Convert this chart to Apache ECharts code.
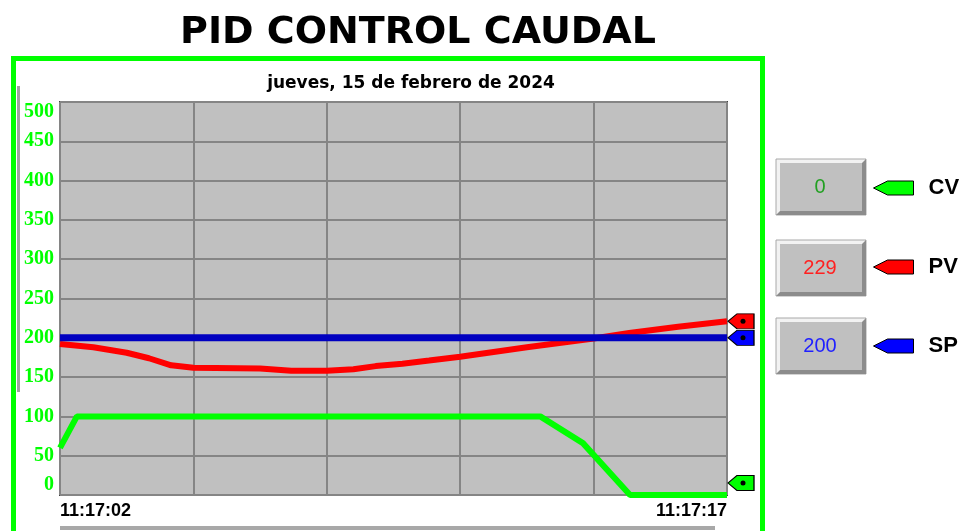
<!DOCTYPE html>
<html>
<head>
<meta charset="utf-8">
<script src="https://cdn.jsdelivr.net/npm/echarts@6/dist/echarts.min.js"></script>
<style>
  html, body { margin: 0; padding: 0; background: #ffffff; }
  #chart { width: 963px; height: 531px; }
</style>
</head>
<body>
<div id="chart"></div>
<script>
// Trend window: 15 s starting at 11:17:02 (x values are seconds into the window)
const titleText = 'PID CONTROL CAUDAL';
const dateText = 'jueves, 15 de febrero de 2024';
const timeLabels = ['11:17:02', '11:17:17'];
const seriesNames = ['CV', 'PV', 'SP'];

// Control variable (valve output)
const cvData = [[0, 60], [0.38, 100], [10.8, 100], [11.76, 66], [12.82, 0], [15, 0]];
// Process variable (flow)
const pvData = [[0, 192], [0.75, 188], [1.5, 181], [2, 174], [2.5, 165], [3, 162], [4.5, 161],
                [5.2, 158], [6, 158], [6.6, 160], [7.1, 164], [7.7, 167], [8.3, 171], [9, 176],
                [10.5, 188], [12, 199], [12.8, 206], [13.9, 214], [15, 221]];
// Setpoint
const spData = [[0, 200], [15, 200]];

// Current values shown in the readout boxes (CV, PV, SP)
const readouts = [0, 229, 200];

const X_MIN = 0, X_MAX = 15;

const flagPath = 'path://M0,7L9,0L26,0L26,14L9,14Z';

// Flag with a dot, pinned to the last sample of a series, just right of the plot
function endFlag(data, dy) {
  const last = data[data.length - 1];
  return {
    silent: true,
    animation: false,
    label: { show: false },
    data: [
      { coord: last, symbol: flagPath, symbolSize: [26, 15], symbolOffset: [14, dy],
        itemStyle: { borderColor: '#000', borderWidth: 1 } },
      { coord: last, symbol: 'circle', symbolSize: 5, symbolOffset: [16, dy],
        itemStyle: { color: '#000', borderWidth: 0 } }
    ]
  };
}

// Sunken-looking readout box with its value
function readoutBox(y, value, color) {
  const x = 776, w = 90, h = 56, b = 4;
  return {
    type: 'group',
    children: [
      { type: 'rect', shape: { x: x, y: y, width: w, height: h },
        style: { fill: '#f2f2f2', stroke: '#a8a8a8', lineWidth: 1 } },
      { type: 'polygon',
        shape: { points: [[x + w, y], [x + w, y + h], [x, y + h], [x + b, y + h - b], [x + w - b, y + h - b], [x + w - b, y + b]] },
        style: { fill: '#8c8c8c' } },
      { type: 'rect', shape: { x: x + b, y: y + b, width: w - 2 * b, height: h - 2 * b },
        style: { fill: '#c0c0c0' } },
      { type: 'text', x: x + w / 2 - 1, y: y + h / 2,
        style: { text: String(value), fill: color, fontSize: 20, fontFamily: 'Liberation Sans',
                 align: 'center', verticalAlign: 'middle', textAlign: 'center', textVerticalAlign: 'middle' } }
    ]
  };
}

const chart = echarts.init(document.getElementById('chart'));

chart.setOption({
  animation: false,
  backgroundColor: '#ffffff',
  title: [
    { text: titleText, left: 418, top: 14, textAlign: 'center', padding: 0,
      textStyle: { fontFamily: 'DejaVu Sans', fontWeight: 'bold', fontSize: 38, color: '#000' } },
    { text: dateText, left: 411, top: 75, textAlign: 'center', padding: 0,
      textStyle: { fontFamily: 'DejaVu Sans', fontWeight: 'bold', fontSize: 17, color: '#000' } }
  ],
  grid: {
    left: 60, top: 102, width: 667, height: 393,
    show: true, backgroundColor: '#c0c0c0', borderColor: '#404040', borderWidth: 2,
    containLabel: false
  },
  legend: {
    orient: 'vertical', left: 873, top: 177, padding: 0, itemGap: 57,
    itemWidth: 40, itemHeight: 15, selectedMode: false,
    icon: 'path://M0,7L14,0L40,0L40,14L14,14Z',
    itemStyle: { borderColor: '#000', borderWidth: 1 },
    textStyle: { fontFamily: 'Liberation Sans', fontWeight: 'bold', fontSize: 22, color: '#000',
                 lineHeight: 22, padding: [0, 0, 0, 10] },
    data: seriesNames
  },
  xAxis: {
    type: 'value', min: X_MIN, max: X_MAX, interval: 3,
    axisLine: { show: false }, axisTick: { show: false },
    splitLine: { show: true, lineStyle: { color: '#858585', width: 2 } },
    axisLabel: {
      showMinLabel: true, showMaxLabel: true,
      alignMinLabel: 'left', alignMaxLabel: 'right',
      margin: 7,
      formatter: function (v) {
        if (v === X_MIN) return timeLabels[0];
        if (v === X_MAX) return timeLabels[1];
        return '';
      },
      fontFamily: 'Liberation Sans', fontWeight: 'bold', fontSize: 18, color: '#000'
    }
  },
  yAxis: {
    type: 'value', min: 0, max: 500, interval: 50,
    axisLine: { show: false }, axisTick: { show: false },
    splitLine: { show: true, lineStyle: { color: '#858585', width: 2 } },
    axisLabel: {
      margin: 6,
      verticalAlignMinLabel: 'bottom', verticalAlignMaxLabel: 'top',
      fontFamily: 'Liberation Serif', fontWeight: 'bold', fontSize: 20, color: '#00ff00'
    }
  },
  series: [
    { name: seriesNames[0], type: 'line', data: cvData, symbol: 'none', showSymbol: false,
      itemStyle: { color: '#00ff00' }, lineStyle: { color: '#00ff00', width: 6 },
      markPoint: endFlag(cvData, -12) },
    { name: seriesNames[1], type: 'line', data: pvData, symbol: 'none', showSymbol: false,
      itemStyle: { color: '#ff0000' }, lineStyle: { color: '#ff0000', width: 6 },
      markPoint: endFlag(pvData, 0) },
    { name: seriesNames[2], type: 'line', data: spData, symbol: 'none', showSymbol: false,
      itemStyle: { color: '#0000ff' }, lineStyle: { color: '#0000c0', width: 7 },
      markPoint: endFlag(spData, 0) }
  ],
  graphic: [
    // green frame around the trend
    { type: 'rect', shape: { x: 13.5, y: 58.5, width: 749, height: 490 },
      style: { fill: 'none', stroke: '#00ff00', lineWidth: 5 }, z: 10 },
    // scroll bars
    { type: 'rect', shape: { x: 17, y: 86, width: 3, height: 306 }, style: { fill: '#a0a0a0' } },
    { type: 'rect', shape: { x: 60, y: 526, width: 655, height: 4 }, style: { fill: '#a8a8a8' } },
    readoutBox(159, readouts[0], '#22a022'),
    readoutBox(240, readouts[1], '#ff2020'),
    readoutBox(318, readouts[2], '#2020ff')
  ]
});
</script>
</body>
</html>
